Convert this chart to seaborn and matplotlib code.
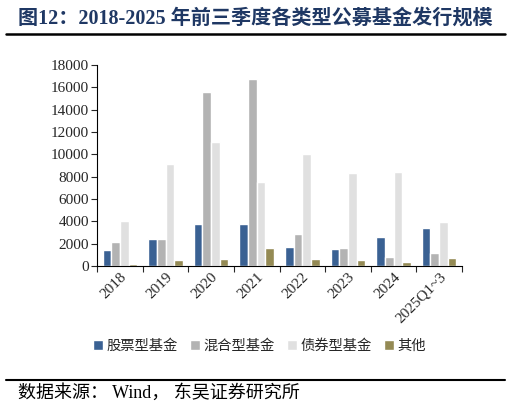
import pandas as pd
import matplotlib.pyplot as plt
import seaborn as sns
from matplotlib.lines import Line2D

# Data
years = ["2018", "2019", "2020", "2021", "2022", "2023", "2024", "2025Q1~3"]
stock_fund = [1450, 2450, 3800, 3800, 1700, 1500, 2600, 3380]
hybrid_fund = [2150, 2400, 15530, 16750, 2900, 1650, 820, 1150]
bond_fund = [4050, 9150, 11100, 7550, 10050, 8300, 8400, 3950]
other_fund = [200, 520, 650, 1650, 650, 500, 400, 680]
series_names = ["股票型基金", "混合型基金", "债券型基金", "其他"]
colors = ["#3A6193", "#B3B3B3", "#E0E0E0", "#948A54"]

df = pd.DataFrame({
    "year": years * 4,
    "type": [n for n in series_names for _ in years],
    "value": stock_fund + hybrid_fund + bond_fund + other_fund,
})

sns.set_style("white")
plt.rcParams["font.family"] = ["Liberation Serif", "Noto Sans CJK SC"]

fig = plt.figure(figsize=(5.11, 4.13), dpi=100)
ax = fig.add_axes([0.19, 0.356, 0.714, 0.487])

sns.barplot(data=df, x="year", y="value", hue="type", palette=colors,
            width=0.76, saturation=1, gap=0, ax=ax, legend=True)

ax.set_ylim(0, 18000)
ax.set_yticks(range(0, 18001, 2000))
ax.set_xlim(-0.5, len(years) - 0.5)
ax.set_xlabel("")
ax.set_ylabel("")
for s in ["top", "right"]:
    ax.spines[s].set_visible(False)
for s in ["left", "bottom"]:
    ax.spines[s].set_color("black")
    ax.spines[s].set_linewidth(0.8)

ax.tick_params(axis="y", which="both", direction="out", length=4, width=0.8,
               labelsize=11, left=True, pad=2)
ax.tick_params(axis="x", which="major", length=0, labelsize=11, pad=3)
ax.set_xticks(range(len(years)))
ax.set_xticklabels(years, rotation=45, ha="right", rotation_mode="anchor")
ax.set_xticks([i - 0.5 for i in range(len(years) + 1)], minor=True)
ax.tick_params(axis="x", which="minor", direction="out", length=4, width=0.8,
               bottom=True)

sns.move_legend(ax, "upper center", bbox_to_anchor=(0.445, -0.3), ncol=4,
                frameon=False, title=None, fontsize=10.3, handlelength=0.7,
                handleheight=0.7, handletextpad=0.2, columnspacing=0.9)

# title and source
fig.text(0.035, 0.955, "图12：2018-2025 年前三季度各类型公募基金发行规模",
         fontsize=14.5, fontweight="bold", color="#1F3864", va="center")
fig.add_artist(Line2D([0.012, 0.988], [0.917, 0.917], color="black", lw=1.8,
                      transform=fig.transFigure))
fig.add_artist(Line2D([0.012, 0.988], [0.08, 0.08], color="black", lw=1.5,
                      transform=fig.transFigure))
fig.text(0.035, 0.048, "数据来源： Wind， 东吴证券研究所", fontsize=13,
         color="black", va="center")

fig.savefig("out.png", dpi=100)
